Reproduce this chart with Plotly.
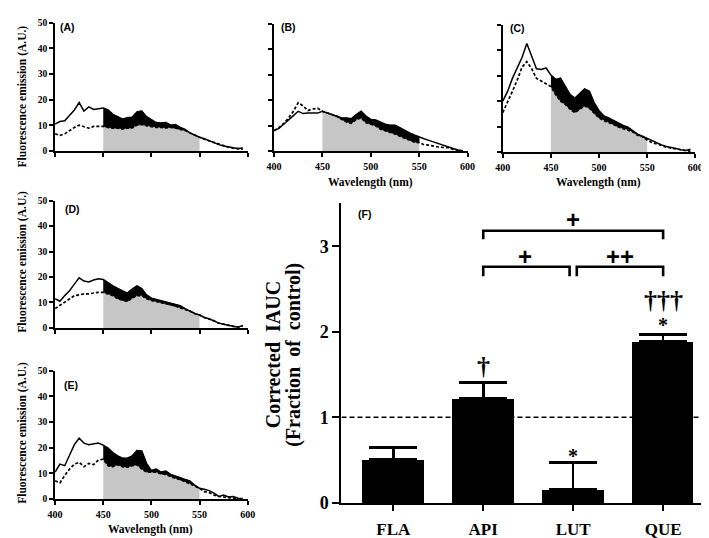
import plotly.graph_objects as go

W, H = 709, 538

# ---------------- data ----------------
wavelength = [400, 405, 410, 415, 420, 425, 430, 435, 440, 445,
              450, 455, 460, 465, 470, 475, 480, 485, 490, 495,
              500, 505, 510, 515, 520, 525, 530, 535, 540, 545,
              550, 555, 560, 565, 570, 575, 580, 585, 590, 595]

a_solid = [10.5, 11.5, 11.8, 13.7, 16.0, 18.9, 15.6, 17.2, 16.2, 16.5,
           16.8, 16.0, 14.3, 13.4, 12.4, 13.0, 13.2, 15.2, 15.6, 13.4,
           12.4, 11.1, 10.9, 11.1, 10.1, 10.3, 9.2, 8.4, 7.1, 6.1,
           5.4, 4.8, 4.0, 3.3, 2.5, 2.0, 1.5, 1.3, 1.0, 1.2]
a_dashed = [6.7, 6.1, 6.7, 8.0, 9.2, 10.1, 9.6, 8.9, 9.6, 9.6,
            9.6, 9.2, 8.9, 8.9, 8.6, 8.9, 9.0, 10.1, 10.3, 9.9,
            9.6, 9.2, 9.2, 9.0, 9.2, 9.0, 8.4, 8.0, 7.1, 6.1,
            5.4, 4.6, 4.0, 3.2, 2.5, 1.9, 1.5, 1.1, 0.8, 0.7]

b_solid = [8.0, 8.9, 10.5, 12.4, 13.9, 15.6, 14.7, 14.9, 14.9, 14.9,
           15.6, 14.9, 14.3, 13.4, 13.0, 13.0, 12.7, 14.3, 15.6, 13.7,
           12.4, 12.2, 11.4, 10.5, 10.1, 10.1, 9.2, 8.0, 7.1, 6.3,
           5.4, 4.8, 4.2, 3.5, 2.9, 2.3, 1.6, 1.0, 0.4, 0.1]
b_dashed = [8.0, 9.2, 10.9, 13.0, 15.6, 19.0, 17.7, 15.9, 16.5, 16.8,
            15.6, 14.9, 14.3, 13.7, 12.4, 11.4, 10.9, 12.4, 13.0, 11.1,
            10.5, 9.9, 8.6, 8.0, 7.3, 6.7, 5.8, 5.1, 4.2, 3.5,
            3.3, 2.5, 2.3, 1.9, 1.6, 1.4, 1.3, 0.6, 0.3, 0.1]

c_solid = [20.0, 23.8, 28.9, 32.7, 37.1, 42.6, 37.8, 32.7, 32.4, 33.0,
           30.2, 28.5, 29.0, 25.7, 22.5, 21.2, 23.2, 24.8, 23.8, 19.3,
           16.2, 14.2, 13.4, 12.3, 11.3, 10.4, 9.8, 8.5, 7.0, 6.2,
           5.3, 4.5, 3.7, 2.8, 2.2, 1.9, 1.4, 0.9, 0.6, 1.1]
c_dashed = [15.5, 20.0, 23.8, 28.2, 33.3, 35.5, 32.7, 28.9, 27.9, 27.0,
            25.7, 22.5, 20.0, 18.7, 16.8, 15.5, 16.8, 18.1, 17.2, 15.1,
            13.4, 12.3, 11.7, 10.8, 9.8, 9.2, 8.8, 7.9, 6.6, 6.0,
            4.7, 3.7, 3.2, 2.4, 1.9, 1.5, 1.1, 0.9, 0.6, 0.3]

d_solid = [11.5, 10.5, 12.7, 14.6, 17.2, 19.7, 18.4, 18.1, 18.8, 19.3,
           19.0, 17.6, 16.5, 15.5, 14.6, 13.7, 15.3, 16.5, 15.5, 13.0,
           11.7, 11.2, 10.8, 10.4, 9.9, 9.2, 8.7, 7.6, 6.6, 5.7,
           5.1, 4.1, 3.6, 2.8, 1.9, 1.5, 1.0, 0.6, 0.3, 1.0]
d_dashed = [7.6, 8.9, 9.9, 11.5, 12.7, 13.0, 13.4, 13.4, 13.7, 14.0,
            14.0, 13.4, 12.7, 11.5, 10.8, 10.4, 11.7, 12.7, 12.7, 11.5,
            10.8, 10.4, 9.9, 9.5, 9.2, 8.7, 7.9, 7.4, 6.6, 5.7,
            5.1, 4.1, 3.5, 2.8, 1.9, 1.4, 1.0, 0.6, 0.3, 0.8]

e_solid = [10.5, 13.6, 13.0, 17.4, 21.2, 23.7, 21.8, 21.2, 21.5, 21.8,
           21.0, 19.9, 18.1, 16.8, 15.9, 15.9, 16.8, 18.9, 18.7, 13.9,
           11.1, 11.7, 10.5, 10.9, 9.6, 8.8, 8.3, 7.6, 7.1, 5.4,
           4.2, 3.8, 3.3, 2.3, 1.0, 1.6, 0.8, 1.0, 0.3, 0.2]
e_dashed = [7.1, 6.3, 9.2, 11.7, 13.6, 14.3, 12.6, 13.9, 13.4, 15.2,
            15.5, 13.0, 12.6, 13.4, 12.6, 12.4, 13.0, 13.4, 11.7, 10.5,
            10.5, 10.5, 9.8, 9.6, 8.8, 8.0, 7.6, 6.7, 6.1, 5.1,
            4.2, 2.9, 2.5, 1.6, 1.0, 0.8, 0.5, 0.3, 0.1, 0.1]

wl_ticks = [400, 450, 500, 550, 600]
fluo_ticks = [0, 10, 20, 30, 40, 50]
auc_window = (450, 550)

flavonoids = ["FLA", "API", "LUT", "QUE"]
iauc_mean = [0.51, 1.22, 0.16, 1.89]
iauc_err = [0.14, 0.19, 0.31, 0.08]
iauc_ticks = [0, 1, 2, 3]

# ---------------- helpers ----------------
def px(x):
    return x / W

def py(y):
    return 1 - y / H

SERIF = "Liberation Serif"
SANS = "Liberation Sans"

fig = go.Figure()

panels = [
    ("", a_solid, a_dashed, (40, 237), (10, 142), False, True),
    ("2", b_solid, b_dashed, (264, 462), (11, 142), True, False),
    ("3", c_solid, c_dashed, (498, 695), (12, 143), True, False),
    ("4", d_solid, d_dashed, (40, 237), (193, 324), False, True),
    ("5", e_solid, e_dashed, (40, 237), (368, 500), True, True),
]

layout_axes = {}
for key, solid, dashed, xd, yd, showx, showy in panels:
    xa, ya = "x" + key, "y" + key
    win = [i for i, w in enumerate(wavelength) if auc_window[0] <= w <= auc_window[1]]
    wx = [wavelength[i] for i in win]
    lo = [min(solid[i], dashed[i]) for i in win]
    hi = [max(solid[i], dashed[i]) for i in win]
    fig.add_trace(go.Scatter(x=wx, y=lo, fill="tozeroy", fillcolor="#c6c6c6",
                             mode="lines", line=dict(width=0), xaxis=xa, yaxis=ya,
                             hoverinfo="skip", showlegend=False))
    fig.add_trace(go.Scatter(x=wx + wx[::-1], y=hi + lo[::-1], fill="toself",
                             fillcolor="black", mode="lines", line=dict(width=0.5, color="black"),
                             xaxis=xa, yaxis=ya, hoverinfo="skip", showlegend=False))
    fig.add_trace(go.Scatter(x=wavelength, y=dashed, mode="lines",
                             line=dict(color="black", width=1.7, dash="3px,2px"),
                             xaxis=xa, yaxis=ya, showlegend=False))
    fig.add_trace(go.Scatter(x=wavelength, y=solid, mode="lines",
                             line=dict(color="black", width=1.5),
                             xaxis=xa, yaxis=ya, showlegend=False))
    layout_axes["xaxis" + key] = dict(
        domain=[px(xd[0]), px(xd[1])], anchor=ya, range=[400, 600],
        tickvals=wl_ticks, showticklabels=showx, ticks="outside", ticklen=4,
        tickwidth=1.5, tickcolor="black", showline=True, linewidth=1.8,
        linecolor="black", showgrid=False, zeroline=False, ticklabelstandoff=1,
        tickfont=dict(family=SERIF, size=10, color="black", weight="bold"))
    layout_axes["yaxis" + key] = dict(
        domain=[py(yd[1]), py(yd[0])], anchor=xa, range=[0, 50],
        tickvals=fluo_ticks, showticklabels=showy, ticks="outside", ticklen=4,
        tickwidth=1.5, tickcolor="black", showline=True, linewidth=1.8,
        linecolor="black", showgrid=False, zeroline=False,
        tickfont=dict(family=SERIF, size=9.5, color="black", weight="bold"))

# ---------------- panel F ----------------
fig.add_trace(go.Bar(
    x=list(range(len(flavonoids))), y=iauc_mean, width=0.685,
    marker=dict(color="black", line=dict(width=0)),
    error_y=dict(type="data", symmetric=False, array=iauc_err,
                 arrayminus=[0] * len(iauc_err), color="black",
                 thickness=2.6, width=24),
    xaxis="x6", yaxis="y6", showlegend=False))

layout_axes["xaxis6"] = dict(
    domain=[px(333), 1.0], anchor="y6", range=[-0.576, 3.51],
    tickvals=list(range(len(flavonoids))), ticktext=flavonoids,
    ticks="outside", ticklen=6, tickwidth=2.4, tickcolor="black",
    showline=True, linewidth=2.4, linecolor="black", showgrid=False,
    zeroline=False, ticklabelstandoff=3,
    tickfont=dict(family=SERIF, size=17, color="black", weight="bold"))
layout_axes["yaxis6"] = dict(
    domain=[py(504), py(195)], anchor="x6", range=[0, 3.51],
    tickvals=iauc_ticks, ticks="outside", ticklen=7, tickwidth=2.4,
    tickcolor="black", showline=True, linewidth=2.4, linecolor="black",
    showgrid=False, zeroline=False,
    tickfont=dict(family=SERIF, size=18, color="black", weight="bold"))

shapes = [
    dict(type="line", xref="x6", yref="y6", x0=-0.576, x1=3.51, y0=1, y1=1,
         line=dict(color="black", width=1.5, dash="5px,3px"), layer="below"),
    dict(type="path", xref="x6", yref="y6", path="M 1,3.08 L 1,3.18 L 3,3.18 L 3,3.08",
         line=dict(color="black", width=2.6)),
    dict(type="path", xref="x6", yref="y6", path="M 1,2.65 L 1,2.76 L 1.96,2.76 L 1.96,2.65",
         line=dict(color="black", width=2.6)),
    dict(type="path", xref="x6", yref="y6", path="M 2.04,2.65 L 2.04,2.76 L 3,2.76 L 3,2.65",
         line=dict(color="black", width=2.6)),
]

ann = []

def txt(x, y, s, size, family=SERIF, xanchor="center", angle=0, xref="paper", yref="paper"):
    ann.append(dict(x=x, y=y, xref=xref, yref=yref, text=s, showarrow=False,
                    xanchor=xanchor, yanchor="middle", textangle=angle,
                    font=dict(family=family, size=size, color="black", weight="bold")))

for lab, x, y in [("(A)", 43, 14), ("(B)", 269, 14), ("(C)", 503, 15),
                  ("(D)", 48, 202), ("(E)", 47, 383), ("(F)", 348, 207)]:
    txt(px(x), py(y), lab, 10.5, family=SANS, xanchor="left")

for y in [86, 256, 432]:
    txt(px(7), py(y), "Fluorescence emission (A.U.)", 11.5, angle=-90)
for x, y in [(363, 174), (596, 174), (138, 531)]:
    txt(px(x), py(y), "Wavelength (nm)", 11.5)

txt(px(263), py(352), "Corrected&nbsp;&nbsp;IAUC", 20, angle=-90)
txt(px(284), py(352), "(Fraction&nbsp; of&nbsp; control)", 20, angle=-90)

txt(2.0, 3.31, "+", 24, family=SANS, xref="x6", yref="y6")
txt(1.46, 2.875, "+", 24, family=SANS, xref="x6", yref="y6")
txt(2.52, 2.875, "++", 24, family=SANS, xref="x6", yref="y6")
txt(1.0, 1.60, "†", 26, xref="x6", yref="y6")
txt(2.0, 0.55, "*", 20, xref="x6", yref="y6")
txt(3.0, 2.08, "*", 20, xref="x6", yref="y6")
txt(3.0, 2.36, "†††", 26, xref="x6", yref="y6")

fig.update_layout(
    width=W, height=H, margin=dict(l=0, r=0, t=0, b=0),
    paper_bgcolor="white", plot_bgcolor="rgba(0,0,0,0)",
    showlegend=False, shapes=shapes, annotations=ann, bargap=0,
    **layout_axes)

fig.write_html("out.html")
